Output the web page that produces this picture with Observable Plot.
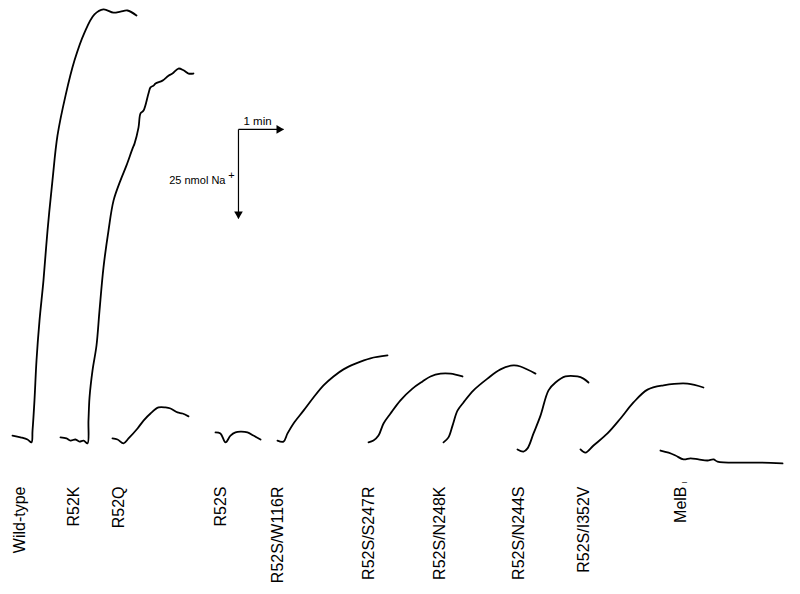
<!DOCTYPE html>
<html><head><meta charset="utf-8">
<script src="https://cdn.jsdelivr.net/npm/d3@7"></script>
<script src="https://cdn.jsdelivr.net/npm/@observablehq/plot@0.6"></script>
<style>html,body{margin:0;padding:0;background:#fff}#chart svg{display:block}</style>
</head><body><div id="chart"></div>
<script>
// Na+ uptake traces: [time (s), Na+ (nmol)]
const wildType = [[16,7.0],[26.7,6.5],[36,5.9],[41.3,5.1],[42.7,8.4],[45.3,16.9],[48,28.1],[52,39.3],[57.3,50.6],[62.7,64.6],[69.3,78.7],[76,91.3],[86.7,102.5],[98.7,112.4],[112,120.2],[125.3,125.3],[137.3,126.7],[150.7,125.8],[160,126.1],[169.3,126.4],[181.3,125.0]];
const r52k = [[80,6.5],[88,6.2],[93.3,5.6],[100,5.9],[105.3,5.3],[110.7,5.6],[116,4.8],[117.3,11.2],[118.7,17.7],[122.7,25.3],[128,32.3],[132,42.1],[137.3,54.2],[144,64.6],[150.7,73.0],[160,78.7],[168,82.9],[176,87.6],[178.7,89.0],[184,93.5],[186.7,97.5],[190.7,98.3],[197.3,103.1],[200,104.8],[204,105.3],[206.7,105.9],[216,106.7],[224,108.1],[229.3,108.7],[237.3,110.1],[244,109.6],[250.7,108.7],[257.3,108.7]];
const r52q = [[149.3,6.2],[156,5.9],[164,4.8],[170.7,6.2],[182.7,9.0],[190.7,11.2],[200,13.2],[210.7,14.9],[220,14.9],[226.7,14.6],[236,13.5],[242.7,13.2],[250.7,12.4]];
const r52s = [[286.7,7.9],[293.3,7.6],[300,5.1],[306.7,7.0],[313.3,7.9],[320,8.1],[329.3,7.9],[337.3,7.0],[346.7,5.9]];
const r52sW116R = [[369.3,5.6],[377.3,5.3],[382.7,7.6],[390.7,10.4],[404,14.0],[417.3,17.7],[430.7,21.1],[444,23.6],[457.3,25.6],[473.3,27.2],[493.3,28.7],[516,29.5]];
const r52sS247R = [[490.7,5.1],[497.3,5.6],[504,7.0],[510.7,10.4],[520,13.2],[533.3,16.9],[549.3,20.2],[562.7,22.2],[573.3,23.6],[586.7,24.4],[600,24.4],[616,23.6]];
const r52sN248K = [[590.7,5.1],[597.3,6.5],[602.7,9.8],[609.3,14.0],[617.3,16.3],[630.7,19.7],[649.3,23.0],[666.7,25.6],[684,26.7],[693.3,26.4],[713.3,24.4]];
const r52sN244S = [[689.3,3.1],[697.3,2.5],[702.7,3.4],[710.7,7.6],[720,12.6],[730.7,19.7],[740,21.9],[753.3,23.6],[769.3,23.6],[777.3,23.0],[784,21.9]];
const r52sI352V = [[773.3,3.1],[780,2.2],[790.7,4.2],[809.3,7.6],[826.7,11.8],[844,16.3],[862.7,19.9],[884,21.1],[916,21.6],[937.3,20.5]];
const melBminus = [[880,2.8],[890.7,2.2],[900,1.4],[910.7,0.3],[920,0.6],[930.7,0.3],[942.7,0],[950.7,0.3],[956,-0.3],[986.7,-0.6],[1013.3,-0.6],[1042.7,-0.8]];

const strains = ["Wild-type","R52K","R52Q","R52S","R52S/W116R","R52S/S247R","R52S/N248K","R52S/N244S","R52S/I352V","MelB"];
const labelTimes = [25.3,97.3,157.3,293.3,369.3,490.7,585.3,690.7,777.3,906.7];
const labelLevel = -7.3;

// scale bar: 1 min, 25 nmol Na+
const scaleBarOrigin = [317.3, 93.0];
const scaleBarSeconds = 60;
const scaleBarNmol = 25;

const traces = [wildType, r52k, r52q, r52s, r52sW116R, r52sS247R, r52sN248K, r52sN244S, r52sI352V, melBminus];
const lineData = traces.flatMap((pts, i) => pts.map(([t, n]) => ({strain: strains[i], t, n})));
const labelData = strains.map((s, i) => ({s, t: labelTimes[i], n: labelLevel}));

const [ox, oy] = scaleBarOrigin;
const bars = [
  {x1: ox, y1: oy, x2: ox + scaleBarSeconds, y2: oy},
  {x1: ox, y1: oy, x2: ox, y2: oy - scaleBarNmol}
];
const font = "'Liberation Sans', Arial, Helvetica, sans-serif";

const chart = Plot.plot({
  width: 800, height: 594, margin: 0,
  style: {fontFamily: font, background: "white"},
  x: {domain: [0, 1066.67], axis: null},
  y: {domain: [-37.64, 129.21], axis: null},
  marks: [
    Plot.line(lineData, {x: "t", y: "n", z: "strain", stroke: "black", strokeWidth: 1.8, curve: "catmull-rom", strokeLinejoin: "round"}),
    Plot.link(bars, {x1: "x1", y1: "y1", x2: "x2", y2: "y2", stroke: "black", strokeWidth: 1.2}),
    Plot.dot([bars[0]], {x: "x2", y: "y2", symbol: "triangle", r: 3.2, fill: "black", stroke: "none", rotate: 90, dx: -4.5}),
    Plot.dot([bars[1]], {x: "x2", y: "y2", symbol: "triangle", r: 3.2, fill: "black", stroke: "none", rotate: 180, dy: -4.5}),
    Plot.text([{t: ox, n: oy}], {x: "t", y: "n", text: () => "1 min", textAnchor: "start", lineAnchor: "bottom", dx: 5, dy: -4, fontSize: 11.5, fill: "black"}),
    Plot.text([{t: ox, n: oy}], {x: "t", y: "n", text: () => "25 nmol Na", textAnchor: "end", lineAnchor: "bottom", dx: -13, dy: 55, fontSize: 11, fill: "black"}),
    Plot.text([{t: ox, n: oy}], {x: "t", y: "n", text: () => "+", textAnchor: "middle", lineAnchor: "middle", dx: -7, dy: 46, fontSize: 11, fill: "black"}),
    Plot.text(labelData, {x: "t", y: "n", text: "s", rotate: -90, textAnchor: "end", lineAnchor: "middle", fontSize: 16, fill: "black"}),
    Plot.text([labelData[9]], {x: "t", y: "n", text: () => "\u2013", textAnchor: "middle", lineAnchor: "middle", dx: 4, dy: -4, fontSize: 9, fill: "black"})
  ]
});
document.getElementById("chart").appendChild(chart);
</script>
</body></html>
